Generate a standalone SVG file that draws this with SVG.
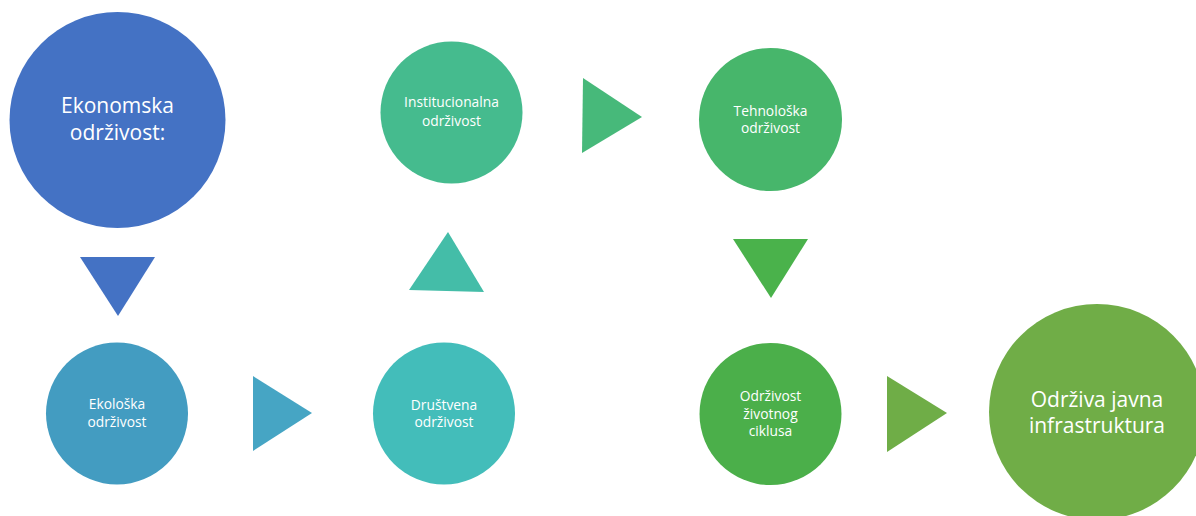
<svg xmlns="http://www.w3.org/2000/svg" width="1196" height="516" viewBox="0 0 1196 516">
<style>
text{font-family:"Open Sans","Liberation Sans",sans-serif;fill:#fff;text-anchor:middle}
.big{font-size:21px}
.sm{font-size:13.8px}
</style>
<rect width="1196" height="516" fill="#fff"/>
<g id="connectors">
<polygon points="80,257 155,257 118,316" fill="#4472C4"/>
<polygon points="253,376 312,413 253,451" fill="#46A5C4"/>
<polygon points="448,232 484,292 409,290" fill="#44BDA8"/>
<polygon points="583,78 642,117 582,153" fill="#47B97A"/>
<polygon points="733,239 808,239 771,298" fill="#4AB24B"/>
<polygon points="887,376 947,413 887,452" fill="#6FAD47"/>
</g>
<g id="n1"><circle cx="117.5" cy="120" r="108" fill="#4472C4"/><text class="big" x="117.5" y="113">Ekonomska</text><text class="big" x="117.5" y="140">održivost:</text></g>
<g id="n2"><circle cx="117" cy="413.5" r="71" fill="#439CC1"/><text class="sm" x="117" y="409">Ekološka</text><text class="sm" x="117" y="427">održivost</text></g>
<g id="n3"><circle cx="444" cy="413.5" r="71" fill="#43BDBA"/><text class="sm" x="444" y="410">Društvena</text><text class="sm" x="444" y="427">održivost</text></g>
<g id="n4"><circle cx="451.5" cy="112.5" r="71" fill="#45BB8E"/><text class="sm" x="451.5" y="107">Institucionalna</text><text class="sm" x="451.5" y="126">održivost</text></g>
<g id="n5"><circle cx="770.5" cy="119.5" r="71.5" fill="#47B66B"/><text class="sm" x="770.5" y="116">Tehnološka</text><text class="sm" x="770.5" y="133">održivost</text></g>
<g id="n6"><circle cx="770.5" cy="414" r="71" fill="#4BAF4A"/><text class="sm" x="770.5" y="401">Održivost</text><text class="sm" x="770.5" y="419">životnog</text><text class="sm" x="770.5" y="436">ciklusa</text></g>
<g id="n7"><circle cx="1097" cy="412" r="108" fill="#70AD47"/><text class="big" x="1097" y="407">Održiva javna</text><text class="big" x="1097" y="433">infrastruktura</text></g>
</svg>
